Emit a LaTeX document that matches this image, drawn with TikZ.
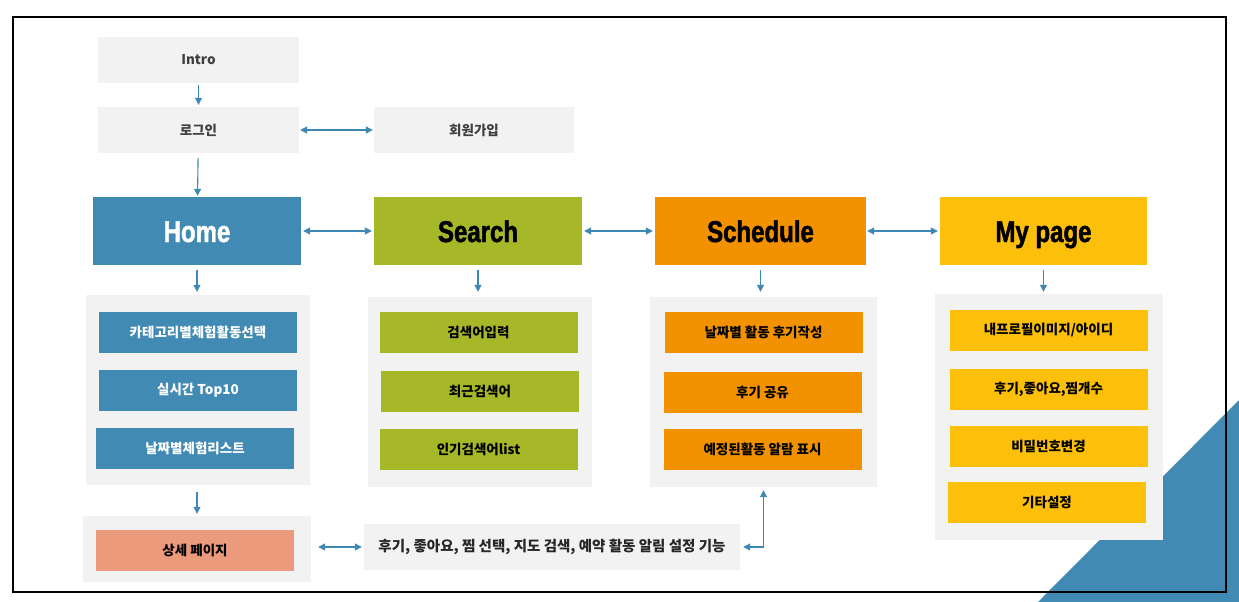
\documentclass[tikz,border=0pt]{standalone}
\usepackage{fontspec}
\newfontfamily\kr{Noto Sans CJK KR}
\newfontfamily\ttl[FakeStretch=0.8,FakeBold=1.6]{Liberation Sans Bold}
\usetikzlibrary{arrows.meta}
\definecolor{homeblue}{HTML}{418AB4}
\definecolor{searchgreen}{HTML}{A6B727}
\definecolor{schedorange}{HTML}{F39200}
\definecolor{pageyellow}{HTML}{FCC00A}
\definecolor{detailsalmon}{HTML}{EC9A7C}
\definecolor{panelgray}{HTML}{F2F2F2}
\definecolor{linkblue}{HTML}{3F88B5}
\definecolor{darktext}{HTML}{404040}
\begin{document}
\begin{tikzpicture}[x=1pt,y=-1pt,
   box/.style={inner sep=0pt,minimum width=198pt,minimum height=41pt,font=\kr\bfseries\fontsize{13.5}{15}\selectfont},
   graybox/.style={box,fill=panelgray,text=darktext,minimum width=201pt,minimum height=46pt},
   panel/.style={fill=panelgray,inner sep=0pt},
   head/.style={inner sep=0pt,minimum width=208pt,minimum height=68pt,text height=22pt,text depth=0pt,font=\ttl\fontsize{30}{34}\selectfont},
   link/.style={draw=linkblue,line width=1.1pt,-{Triangle[length=7pt,width=7pt]}},
   link2/.style={link,{Triangle[length=7pt,width=7pt]}-{Triangle[length=7pt,width=7pt]}}]
   \useasboundingbox (0,0) rectangle (1239,602);
   \fill[homeblue] (1038,602) -- (1239,602) -- (1239,400) -- cycle;
   \draw[line width=2pt] (13,17) rectangle (1226,592);
   % top
   \node[graybox] (intro) at (198.5,60) {Intro};
   \node[graybox] (login) at (198.5,130) {로그인};
   \node[graybox,minimum width=200pt] (signup) at (474,130) {회원가입};
   % main menu
   \node[head,fill=homeblue,text=white] (home) at (197,231) {Home};
   \node[head,fill=searchgreen] (search) at (478,231) {Search};
   \node[head,fill=schedorange,minimum width=211pt] (sched) at (760.5,231) {Schedule};
   \node[head,fill=pageyellow,minimum width=207pt] (mypage) at (1043.5,231) {My page};
   % panels
   \node[panel,minimum width=224pt,minimum height=190pt] (homepanel) at (198,390) {};
   \node[panel,minimum width=224pt,minimum height=190pt] (searchpanel) at (480,392) {};
   \node[panel,minimum width=227pt,minimum height=190pt] (schedpanel) at (763.5,392) {};
   \node[panel,minimum width=228pt,minimum height=246pt] (mypanel) at (1049,417) {};
   \node[panel,minimum width=228pt,minimum height=66pt] (detailpanel) at (197,549) {};
   \node[graybox,minimum width=376pt,text=black!85,font=\kr\bfseries\fontsize{14.5}{16}\selectfont] (feature) at (552,547) {후기, 좋아요, 찜 선택, 지도 검색, 예약 활동 알림 설정 기능};
   % home items
   \node[box,fill=homeblue,text=white] (category) at (198,332) {카테고리별체험활동선택};
   \node[box,fill=homeblue,text=white] (topten) at (198,390) {실시간 Top10};
   \node[box,fill=homeblue,text=white] (datelist) at (195,448.5) {날짜별체험리스트};
   \node[box,fill=detailsalmon] (detail) at (195,550.5) {상세 페이지};
   % search items
   \node[box,fill=searchgreen] (keyword) at (478.5,332.5) {검색어입력};
   \node[box,fill=searchgreen] (recent) at (480,391.5) {최근검색어};
   \node[box,fill=searchgreen] (popular) at (478.5,449.5) {인기검색어list};
   % schedule items
   \node[box,fill=schedorange] (review) at (763.5,332.5) {날짜별 활동 후기작성};
   \node[box,fill=schedorange] (share) at (762.5,392.5) {후기 공유};
   \node[box,fill=schedorange] (alarm) at (762.5,449.5) {예정된활동 알람 표시};
   % my page items
   \node[box,fill=pageyellow] (profile) at (1048.5,330) {내프로필이미지/아이디};
   \node[box,fill=pageyellow] (counts) at (1048.5,389) {후기,좋아요,찜개수};
   \node[box,fill=pageyellow] (password) at (1048.5,446) {비밀번호변경};
   \node[box,fill=pageyellow] (etc) at (1047,502.5) {기타설정};
   % arrows
   \draw[link,shorten <=2pt,shorten >=2pt] (intro) -- (login);
   \draw[link2,shorten <=1pt,shorten >=1pt] (login) -- (signup);
   \draw[link,shorten <=5pt,shorten >=1pt] (login) -- (home);
   \draw[link2,shorten <=2pt,shorten >=2pt] (home) -- (search);
   \draw[link2,shorten <=2pt,shorten >=2pt] (search) -- (sched);
   \draw[link2,shorten <=1pt,shorten >=2pt] (sched) -- (mypage);
   \draw[link,shorten <=5pt,shorten >=3pt] (home.south) -- (home.south |- homepanel.north);
   \draw[link,shorten <=5pt,shorten >=5pt] (search.south) -- (search.south |- searchpanel.north);
   \draw[link,shorten <=5pt,shorten >=5pt] (sched.south) -- (sched.south |- schedpanel.north);
   \draw[link,shorten <=5pt,shorten >=2pt] (mypage.south) -- (mypage.south |- mypanel.north);
   \draw[link,shorten <=7pt,shorten >=2pt] (home.south |- homepanel.south) -- (home.south |- detailpanel.north);
   \draw[link2,shorten <=7pt,shorten >=2pt] (feature.west -| detailpanel.east) -- (feature.west);
   \draw[link2,shorten <=3pt,shorten >=3pt] (feature.east) -| (schedpanel.south);
\end{tikzpicture}
\end{document}
